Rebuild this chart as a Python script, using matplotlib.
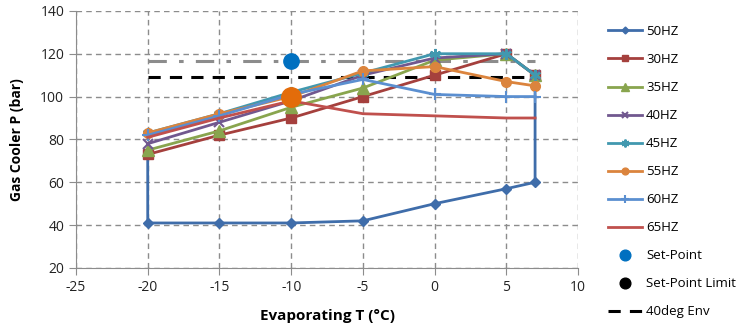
import numpy as np
import matplotlib
matplotlib.use("Agg")
import matplotlib.pyplot as plt

plt.rcParams['font.family'] = ['Open Sans', 'DejaVu Sans']
plt.rcParams['axes.unicode_minus'] = False

# operating envelope and compressor speed curves
temps = [-20, -15, -10, -5, 0, 5, 7]
env_50_x = [-20, -20, -15, -10, -5, 0, 5, 7, 7]
env_50_y = [73, 41, 41, 41, 42, 50, 57, 60, 110]
p_30 = [73, 82, 90, 100, 110, 120, 110]
p_35 = [75, 84, 95, 104, 117, 120, 110]
p_40 = [78, 88, 98, 110, 118, 120, 110]
p_45 = [83, 92, 102, 111, 120, 120, 110]
p_55 = [83, 92, 100, 112, 114, 107, 105]
p_60 = [82, 91, 101, 108, 101, 100, 100]
p_65 = [81, 90, 98, 92, 91, 90, 90]

setpoint_x, setpoint_y = [-10], [116.5]
limit_x, limit_y = [], []
big55_x, big55_y = [-10], [100]
env40_x, env40_y = [-20, 7], [109, 109]
sp_line_x, sp_line_y = [-20, 7], [116.5, 116.5]

fig = plt.figure(figsize=(7.45, 3.3), dpi=100)
ax = fig.add_axes([0.102, 0.188, 0.674, 0.779])

lw = 2.0
ax.plot(sp_line_x, sp_line_y, color='#8c8c8c', lw=2.2, dashes=(6, 4, 1.5, 4), zorder=2)
ax.plot(env40_x, env40_y, color='black', lw=2.2, dashes=(4, 3), zorder=2)

h = []
h += ax.plot(env_50_x, env_50_y, color='#3F6DAA', lw=lw, marker='D', ms=5, label='50HZ')
h += ax.plot(temps, p_30, color='#A5403D', lw=lw, marker='s', ms=7, label='30HZ')
h += ax.plot(temps, p_35, color='#89A54E', lw=lw, marker='^', ms=8, label='35HZ')
h += ax.plot(temps, p_40, color='#71588F', lw=lw, marker='x', ms=7, mew=1.5, label='40HZ')
h += ax.plot(temps, p_45, color='#4198AF', lw=lw, marker=(6, 2, 0), ms=8, mew=1.5, label='45HZ')
h += ax.plot(temps, p_55, color='#DB843D', lw=lw, marker='o', ms=7, label='55HZ')
ax.plot(big55_x, big55_y, 'o', color='#E36C0A', ms=14, zorder=3)
h += ax.plot(temps, p_60, color='#5B8FD0', lw=lw, marker='+', ms=8, mew=1.5, label='60HZ')
h += ax.plot(temps, p_65, color='#C0504D', lw=lw, label='65HZ')
h += ax.plot(setpoint_x, setpoint_y, 'o', color='#0070C0', ms=11, ls='none', label='Set-Point')
h += ax.plot(limit_x, limit_y, 'o', color='black', ms=11, ls='none', label='Set-Point Limit')
h += ax.plot([], [], color='black', lw=2.2, dashes=(4, 3), label='40deg Env')

ax.set_xlim(-25, 10)
ax.set_ylim(20, 140)
ax.set_xticks(np.arange(-25, 11, 5))
ax.set_yticks(np.arange(20, 141, 20))
ax.grid(True, color='#8c8c8c', ls=(0, (4, 3)), lw=1)
ax.set_axisbelow(True)
for s in ['top', 'right']:
    ax.spines[s].set_visible(False)
for s in ['left', 'bottom']:
    ax.spines[s].set_color('#8c8c8c')
ax.tick_params(colors='#8c8c8c', labelcolor='#222222', labelsize=10, length=5)
ax.set_xlabel('Evaporating T (°C)', fontsize=11, fontweight='bold', labelpad=10)
ax.set_ylabel('Gas Cooler P (bar)', fontsize=10, fontweight='bold', labelpad=12)

fig.legend(handles=h, loc='upper left', bbox_to_anchor=(0.8, 0.96), frameon=False,
           fontsize=9.5, labelspacing=1.14, handlelength=2.6, handletextpad=0.3,
           markerscale=0.7)

fig.savefig('out.png', dpi=100)
